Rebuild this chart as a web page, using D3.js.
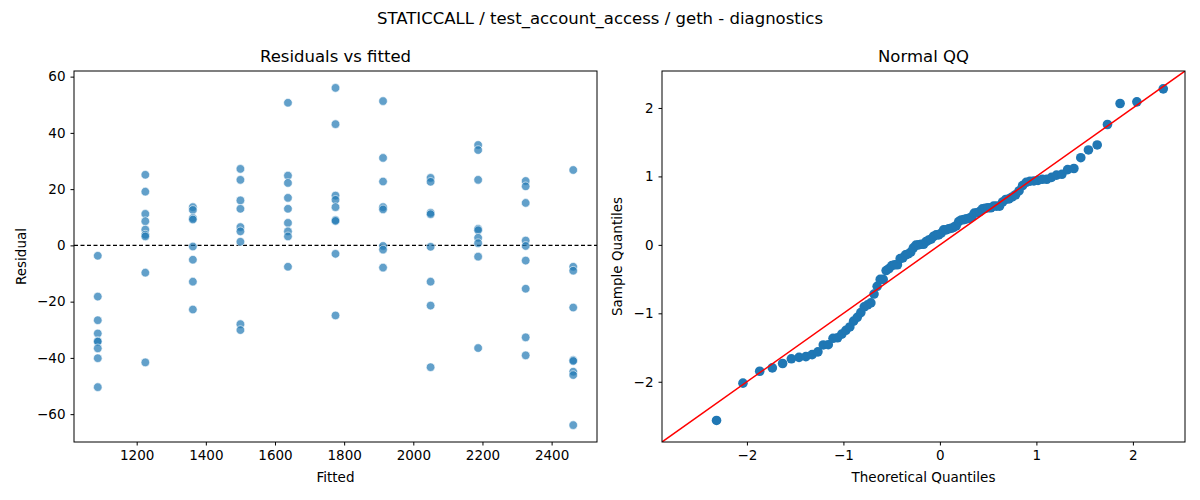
<!DOCTYPE html>
<html>
<head>
<meta charset="utf-8">
<script src="https://cdn.jsdelivr.net/npm/d3@7"></script>
<style>
  body { margin: 0; background: #fff; }
  text { font-family: "DejaVu Sans", sans-serif; fill: #000; }
  .tick text { font-size: 13.5px; }
  .tick line, .domain { stroke: #000; }
</style>
</head>
<body>
<svg id="chart" width="1200" height="500"></svg>
<script>
(function (d3) {
    'use strict';

    // fitted value of each group
    var fitted = [1087.5, 1225, 1362.5, 1500, 1637.5, 1775, 1912.5, 2050, 2187.5, 2325, 2462.5];

    // residuals per fitted group
    var resid1087  = [-3.7, -18.2, -26.6, -31.3, -34.0, -34.2, -36.6, -40.1, -50.4];
    var resid1225  = [25.1, 19.1, 11.2, 8.6, 5.6, 3.8, 3.2, -9.7, -41.6];
    var resid1362  = [13.6, 12.6, 9.7, 9.2, -0.4, -5.1, -12.9, -22.8];
    var resid1500  = [27.2, 23.3, 16.0, 13.0, 6.5, 5.0, 1.3, -28.0, -30.1];
    var resid1637  = [50.7, 24.8, 22.2, 16.9, 13.0, 8.0, 5.0, 3.2, -7.6];
    var resid1775  = [56.0, 43.1, 17.7, 16.2, 13.6, 9.0, 8.7, -3.0, -24.9];
    var resid1912  = [51.3, 31.1, 22.7, 13.6, 12.8, -0.2, -1.5, -7.9];
    var resid2050  = [24.0, 22.6, 11.6, 11.1, -0.5, -12.9, -21.4, -43.3];
    var resid2187  = [35.7, 33.9, 23.3, 5.9, 5.4, 2.7, 0.8, -4.0, -36.5];
    var resid2325  = [22.9, 21.0, 15.1, 1.7, -0.2, -5.4, -15.4, -32.7, -39.1];
    var resid2462  = [26.8, -7.6, -9.0, -22.1, -40.8, -41.1, -44.9, -46.1, -63.9];

    var residGroups = [resid1087, resid1225, resid1362, resid1500, resid1637, resid1775,
                       resid1912, resid2050, resid2187, resid2325, resid2462];

    var leftXTicks  = [1200, 1400, 1600, 1800, 2000, 2200, 2400];
    var leftYTicks  = [-60, -40, -20, 0, 20, 40, 60];
    var qqTicks     = [-2, -1, 0, 1, 2];

    var blue = '#1f77b4';
    var svg = d3.select('#chart');

    svg.append('text').attr('x', 600).attr('y', 24).attr('text-anchor', 'middle')
        .style('font-size', '16.5px').text('STATICCALL / test_account_access / geth - diagnostics');

    var points = [];
    residGroups.forEach(function (g, i) {
        g.forEach(function (r) { points.push({ x: fitted[i], y: r }); });
    });

    // ---- left: residuals vs fitted
    var L = { left: 74, right: 597, top: 71, bottom: 442 };
    var x1 = d3.scaleLinear().domain([1018.75, 2531.25]).range([L.left, L.right]);
    var y1 = d3.scaleLinear().domain([-69.9, 62]).range([L.bottom, L.top]);

    var g1 = svg.append('g');
    g1.append('line').attr('x1', L.left).attr('x2', L.right)
        .attr('y1', y1(0)).attr('y2', y1(0))
        .attr('stroke', '#000').attr('stroke-dasharray', '4,2.5').attr('stroke-width', 1.2);
    g1.selectAll('circle').data(points).enter().append('circle')
        .attr('cx', function (d) { return x1(d.x); })
        .attr('cy', function (d) { return y1(d.y); })
        .attr('r', 4.3).attr('fill', blue).attr('fill-opacity', 0.7)
        .attr('stroke', '#fff').attr('stroke-width', 0.6);
    g1.append('rect').attr('x', L.left).attr('y', L.top)
        .attr('width', L.right - L.left).attr('height', L.bottom - L.top)
        .attr('fill', 'none').attr('stroke', '#000');
    g1.append('g').attr('transform', 'translate(0,' + L.bottom + ')')
        .call(d3.axisBottom(x1).tickValues(leftXTicks).tickSize(3.5).tickPadding(5).tickFormat(d3.format('d')))
        .call(function (a) { a.select('.domain').remove(); });
    g1.append('g').attr('transform', 'translate(' + L.left + ',0)')
        .call(d3.axisLeft(y1).tickValues(leftYTicks).tickSize(3.5).tickPadding(5).tickFormat(d3.format('d')))
        .call(function (a) { a.select('.domain').remove(); });
    g1.append('text').attr('x', (L.left + L.right) / 2).attr('y', 62).attr('text-anchor', 'middle')
        .style('font-size', '16.5px').text('Residuals vs fitted');
    g1.append('text').attr('x', (L.left + L.right) / 2).attr('y', 482).attr('text-anchor', 'middle')
        .style('font-size', '13.5px').text('Fitted');
    g1.append('text').attr('transform', 'translate(26,' + (L.top + L.bottom) / 2 + ') rotate(-90)')
        .attr('text-anchor', 'middle').style('font-size', '13.5px').text('Residual');

    // ---- right: normal QQ of the standardized residuals
    var all = points.map(function (p) { return p.y; }).sort(d3.ascending);
    var mean = d3.mean(all), sd = d3.deviation(all), n = all.length;
    var qq = all.map(function (v, i) {
        return { t: probit((i + 1) / (n + 1)), s: (v - mean) / sd };
    });

    var R = { left: 662, right: 1185, top: 71, bottom: 442 };
    var x2 = d3.scaleLinear().domain([-2.88, 2.54]).range([R.left, R.right]);
    var y2 = d3.scaleLinear().domain([-2.88, 2.54]).range([R.bottom, R.top]);

    var g2 = svg.append('g');
    g2.append('defs').append('clipPath').attr('id', 'qqclip').append('rect')
        .attr('x', R.left).attr('y', R.top).attr('width', R.right - R.left).attr('height', R.bottom - R.top);
    g2.selectAll('circle').data(qq).enter().append('circle')
        .attr('cx', function (d) { return x2(d.t); })
        .attr('cy', function (d) { return y2(d.s); })
        .attr('r', 4.8).attr('fill', blue);
    g2.append('line').attr('clip-path', 'url(#qqclip)')
        .attr('x1', x2(-3)).attr('y1', y2(-3)).attr('x2', x2(3)).attr('y2', y2(3))
        .attr('stroke', '#ff0000').attr('stroke-width', 1.5);
    g2.append('rect').attr('x', R.left).attr('y', R.top)
        .attr('width', R.right - R.left).attr('height', R.bottom - R.top)
        .attr('fill', 'none').attr('stroke', '#000');
    g2.append('g').attr('transform', 'translate(0,' + R.bottom + ')')
        .call(d3.axisBottom(x2).tickValues(qqTicks).tickSize(3.5).tickPadding(5).tickFormat(fmtMinus))
        .call(function (a) { a.select('.domain').remove(); });
    g2.append('g').attr('transform', 'translate(' + R.left + ',0)')
        .call(d3.axisLeft(y2).tickValues(qqTicks).tickSize(3.5).tickPadding(5).tickFormat(fmtMinus))
        .call(function (a) { a.select('.domain').remove(); });
    g2.append('text').attr('x', (R.left + R.right) / 2).attr('y', 62).attr('text-anchor', 'middle')
        .style('font-size', '16.5px').text('Normal QQ');
    g2.append('text').attr('x', (R.left + R.right) / 2).attr('y', 482).attr('text-anchor', 'middle')
        .style('font-size', '13.5px').text('Theoretical Quantiles');
    g2.append('text').attr('transform', 'translate(622,' + (R.top + R.bottom) / 2 + ') rotate(-90)')
        .attr('text-anchor', 'middle').style('font-size', '13.5px').text('Sample Quantiles');

    function fmtMinus(v) {
        return v < 0 ? '\u2212' + Math.abs(v) : String(v);
    }

    // inverse normal CDF (Acklam)
    function probit(p) {
        var a = [-39.69683028665376, 220.9460984245205, -275.9285104469687, 138.3577518672690, -30.66479806614716, 2.506628277459239],
            b = [-54.47609879822406, 161.5858368580409, -155.6989798598866, 66.80131188771972, -13.28068155288572],
            c = [-0.007784894002430293, -0.3223964580411365, -2.400758277161838, -2.549732539343734, 4.374664141464968, 2.938163982698783],
            dd = [0.007784695709041462, 0.3224671290700398, 2.445134137142996, 3.754408661907416],
            q, r;
        if (p < 0.02425) {
            q = Math.sqrt(-2 * Math.log(p));
            return (((((c[0] * q + c[1]) * q + c[2]) * q + c[3]) * q + c[4]) * q + c[5]) /
                ((((dd[0] * q + dd[1]) * q + dd[2]) * q + dd[3]) * q + 1);
        }
        if (p > 1 - 0.02425) {
            return -probit(1 - p);
        }
        q = p - 0.5; r = q * q;
        return (((((a[0] * r + a[1]) * r + a[2]) * r + a[3]) * r + a[4]) * r + a[5]) * q /
            (((((b[0] * r + b[1]) * r + b[2]) * r + b[3]) * r + b[4]) * r + 1);
    }
}(window.d3));
</script>
</body>
</html>
